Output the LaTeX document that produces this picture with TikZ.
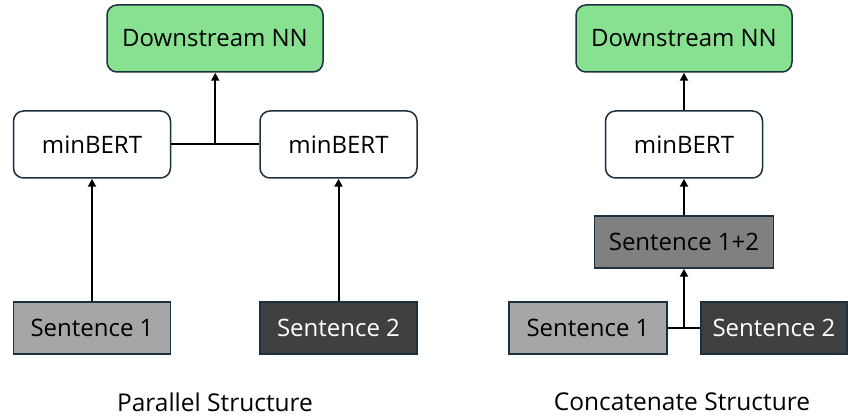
\documentclass[tikz,border=0pt]{standalone}
\usepackage{fontspec}
\setmainfont{Open Sans}
\usetikzlibrary{calc,arrows.meta}

\definecolor{nngreen}{HTML}{88E191}
\definecolor{boxline}{HTML}{1B3040}

\begin{document}
\begin{tikzpicture}[x=1pt,y=1pt,
	down/.style={rectangle, rounded corners=10pt, draw=boxline, line width=1.5pt, fill=nngreen, minimum width=216pt, minimum height=67pt, font=\fontsize{24}{28}\selectfont},
	bert/.style={rectangle, rounded corners=10pt, draw=boxline, line width=1.5pt, fill=white, minimum width=157pt, minimum height=67pt, font=\fontsize{24}{28}\selectfont},
	sent/.style={rectangle, draw=boxline, line width=1.5pt, minimum width=157pt, minimum height=52pt, inner sep=0, font=\fontsize{24}{28}\selectfont},
	capt/.style={font=\fontsize{24.5}{28}\selectfont, inner sep=0},
	link/.style={line width=2pt, black},
	arr/.style={link, -{Triangle[length=8pt,width=8pt]}}]

		\useasboundingbox (0,0) rectangle (848,417);

		%parallel structure
		\node[down] at (215,378.5) (dnn1) {Downstream NN};
		\node[bert] at (92,272.5) (bert11) {minBERT};
		\node[bert] at (338.5,272.5) (bert12) {minBERT};
		\node[sent,fill=black!35] at (92,89) (s11) {Sentence 1};
		\node[sent,fill=black!75,text=white] at (338.5,89) (s12) {Sentence 2};
		\node[capt] at (215,15) (capt1) {Parallel Structure};

		\foreach \j in {1,2} {
			\draw[arr] (s1\j.north) -- (bert1\j.south);
		}
		\draw[link] (bert11.east) -- (bert12.west);
		\coordinate (j1) at ($(bert11.east)!0.5!(bert12.west)$);
		\draw[arr] (j1) -- (j1 |- dnn1.south);

		%concatenate structure
		\node[down] at (684,378.5) (dnn2) {Downstream NN};
		\node[bert] at (684,272.5) (bert2) {minBERT};
		\node[sent,fill=black!50,minimum width=179pt] at (684,175) (s212) {Sentence 1+2};
		\node[sent,fill=black!35,minimum width=158pt] at (588,89) (s21) {Sentence 1};
		\node[sent,fill=black!75,text=white,minimum width=146pt] at (774,89) (s22) {Sentence 2};
		\node[capt] at (682,15) (capt2) {Concatenate Structure};

		\draw[arr] (s212.north) -- (bert2.south);
		\draw[arr] (bert2.north) -- (dnn2.south);
		\draw[link] (s21.east) -- (s22.west);
		\coordinate (j2) at ($(s21.east)!0.5!(s22.west)$);
		\draw[arr] (j2) -- (j2 |- s212.south);
	\end{tikzpicture}
\end{document}
